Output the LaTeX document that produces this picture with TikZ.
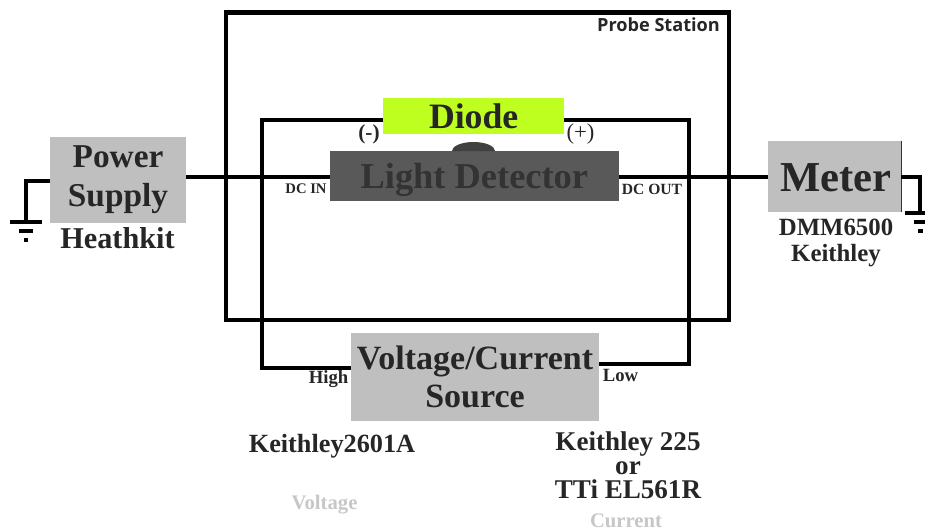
\documentclass[tikz,border=0pt]{standalone}
\usepackage{fontspec}
\setmainfont{Liberation Serif}
\newfontfamily\stationfont{Open Sans}
\usepackage{tikz}
\usetikzlibrary{positioning}

\begin{document}
\begin{tikzpicture}[
  x=0.75pt,y=-0.75pt,
  every node/.style={inner sep=0pt,outer sep=0pt},
  unit/.style={fill=black!25,align=center,text=black!85},
  note/.style={text=black!85,align=center},
  pin/.style={text=black!85},
  faint/.style={font=\bfseries\fontsize{15.5}{18}\selectfont,text=black!22},
  wire/.style={line width=3pt,black,line join=miter},
  gnd/.style={line width=2.6pt,black}
]
\useasboundingbox (0,0) rectangle (925,532);
% probe station
\node[draw,line width=3.3pt,minimum width=377.2pt,minimum height=230.5pt,anchor=north west] (station) at (226,12.5) {};
\node[font=\stationfont\bfseries\fontsize{13.6}{15}\selectfont,text=black!85] (stationtxt) at (658.5,25) {Probe Station};
% boxes
\node[unit,minimum width=102pt,minimum height=64.5pt,anchor=north west,font=\bfseries\fontsize{25}{29}\selectfont] (supply) at (50,137) {Power\\Supply};
\node[unit,minimum width=100pt,minimum height=53pt,anchor=north west,text depth=0pt,font=\bfseries\fontsize{32}{36}\selectfont] (meter) at (768,141) {\raisebox{-1.5pt}{\hspace{2pt}Meter}};
\node[fill=black!65,text=black!80,minimum width=216.5pt,minimum height=37.5pt,anchor=north west,text depth=0pt,font=\bfseries\fontsize{27.3}{30}\selectfont] (detector) at (330,151) {Light Detector};
\node[fill={rgb,255:red,191;green,255;blue,31},text=black!85,minimum width=136pt,minimum height=27pt,anchor=north west,text depth=0pt,font=\bfseries\fontsize{26.8}{28}\selectfont] (diode) at (383,98) {Diode};
\node[unit,minimum width=186pt,minimum height=66pt,anchor=north west,font=\bfseries\fontsize{25.5}{28.5}\selectfont] (source) at (351,333) {Voltage/Current\\Source};
\fill[black!75] (452,151) arc[start angle=180,end angle=0,x radius=21.5,y radius=-9] -- cycle;
\draw[line width=.7pt,black!80] (meter.north east) -- (meter.south east);
% wires
\coordinate (p1) at (262,120);
\coordinate (p2) at (262,368);
\coordinate (p3) at (689,120);
\coordinate (p4) at (689,364);
\draw[wire] (diode.west |- p1) -- (p1) -- (p2) -- (source.west |- p2);
\draw[wire] (diode.east |- p3) -- (p3) -- (p4) -- (source.east |- p4);
\draw[wire] (supply.east |- 0,177) -- (detector.west |- 0,177);
\draw[wire] (detector.east |- 0,177) -- (meter.west |- 0,177);
% grounds
\coordinate (g1) at (26,222);
\coordinate (g2) at (920,213);
\draw[wire] (supply.west |- 0,181) -| (g1);
\draw[wire] (meter.east |- 0,177) -| (g2);
\draw[gnd] (10,222) -- (42,222);
\draw[gnd] (19,231) -- (33,231);
\draw[gnd] (24,240) -- (28,240);
\draw[gnd] (905,213) -- (925,213);
\draw[gnd] (914,222) -- (925,222);
\draw[gnd] (918,231) -- (923,231);
% labels
\node[note,font=\bfseries\fontsize{22.7}{26}\selectfont] (heathkit) at (117.5,238) {Heathkit};
\node[note,font=\bfseries\fontsize{18.6}{20}\selectfont] (dmm) at (836,243) {DMM6500\\Keithley};
\node[note,font=\bfseries\fontsize{19.7}{22}\selectfont] (k2601) at (332,446) {Keithley2601A};
\node[note,font=\bfseries\fontsize{20.3}{18}\selectfont] (k225) at (628,465) {Keithley 225\\or\\TTi EL561R};
\node[faint] (voltage) at (324.5,505) {Voltage};
\node[faint] (current) at (626,521) {Current};
\node[pin,font=\bfseries\fontsize{11}{13}\selectfont] (dcin) at (306,189) {DC IN};
\node[pin,font=\bfseries\fontsize{11.7}{13}\selectfont] (dcout) at (652,189) {DC OUT};
\node[pin,font=\bfseries\fontsize{14}{16}\selectfont] (high) at (328.5,379) {High};
\node[pin,font=\bfseries\fontsize{14}{16}\selectfont] (low) at (620.5,375) {Low};
\node[font=\bfseries\fontsize{16}{18}\selectfont,text=black!85] (minus) at (369,134) {(-)};
\node[font=\fontsize{17}{19}\selectfont,text=black!85] (plus) at (580.5,134) {(+)};
\end{tikzpicture}
\end{document}
